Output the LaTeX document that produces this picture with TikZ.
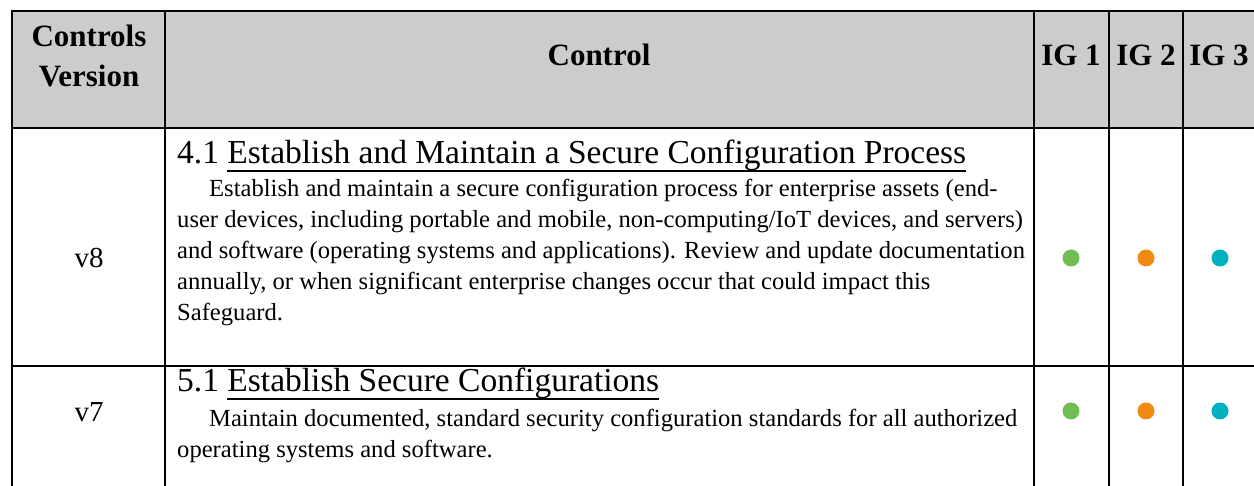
\documentclass[tikz,border=0pt]{standalone}
\usepackage{fontspec}
\setmainfont{Liberation Serif}
\definecolor{hdrgray}{RGB}{204,204,204}
\definecolor{igone}{RGB}{112,189,82}
\definecolor{igtwo}{RGB}{240,138,18}
\definecolor{igthree}{RGB}{0,176,192}
% underline at a fixed depth, like the word processor does
\newcommand\ulin[1]{\setbox0\hbox{#1}\rlap{\rule[-8pt]{\wd0}{1.8pt}}\box0}

\begin{document}
\begin{tikzpicture}[x=1pt,y=-1pt]
\tikzset{
  rule/.style={line width=2.8pt},
  hdr/.style={font=\fontsize{31}{40}\selectfont\bfseries,inner sep=0,anchor=base},
  ver/.style={font=\fontsize{29}{34}\selectfont,inner sep=0,anchor=base},
  ttl/.style={font=\fontsize{33.5}{40}\selectfont,inner sep=0,anchor=base west},
  body/.style={font=\fontsize{24.6}{31}\selectfont,inner sep=0,anchor=base west},
  dot/.style={circle,inner sep=0,minimum size=17pt}
}
\useasboundingbox (0,0) rectangle (1254,486);
% header band
\fill[hdrgray] (12,11) rectangle (1254,128);
% grid
\draw[rule] (1254,11) -- (12,11) -- (12,486);
\foreach \x in {165,1034,1109,1183}
  \draw[rule] (\x,11) -- (\x,486);
\draw[rule] (12,128) -- (1254,128);
\draw[rule] (12,366) -- (1254,366);
% header texts
\node[hdr] (hver) at (89,47) {Controls};
\node[hdr] (hver2) at (89,87) {Version};
\node[hdr] (hctl) at (599,66) {Control};
\node[hdr] (hig1) at (1071,66) {IG 1};
\node[hdr] (hig2) at (1146,66) {IG 2};
\node[hdr] (hig3) at (1219,66) {IG 3};
% row v8
\node[ver] (v8) at (89,268) {v8};
\node[ttl] (t41) at (177,164) {4.1 \ulin{Establish and Maintain a Secure Configuration Process}};
\node[body] (d41) at (177,197) {\parbox[t]{900pt}{\raggedright\hspace*{32pt}Establish and maintain a secure configuration process for enterprise assets (end-\\
user devices, including portable and mobile, non-computing/IoT devices, and servers)\\
and software (operating systems and applications). Review and update documentation\\
annually, or when significant enterprise changes occur that could impact this\\
Safeguard.}};
\node[dot,fill=igone] (a1) at (1071,258) {};
\node[dot,fill=igtwo] (a2) at (1146,258) {};
\node[dot,fill=igthree] (a3) at (1220,258) {};
% row v7
\node[ver] (v7) at (89,421) {v7};
\node[ttl] (t51) at (177,392) {5.1 \ulin{Establish Secure Configurations}};
\node[body] (d51) at (177,427) {\parbox[t]{900pt}{\raggedright\hspace*{32pt}Maintain documented, standard security configuration standards for all authorized\\
operating systems and software.}};
\node[dot,fill=igone] (b1) at (1071,411) {};
\node[dot,fill=igtwo] (b2) at (1146,411) {};
\node[dot,fill=igthree] (b3) at (1220,411) {};
\end{tikzpicture}
\end{document}
